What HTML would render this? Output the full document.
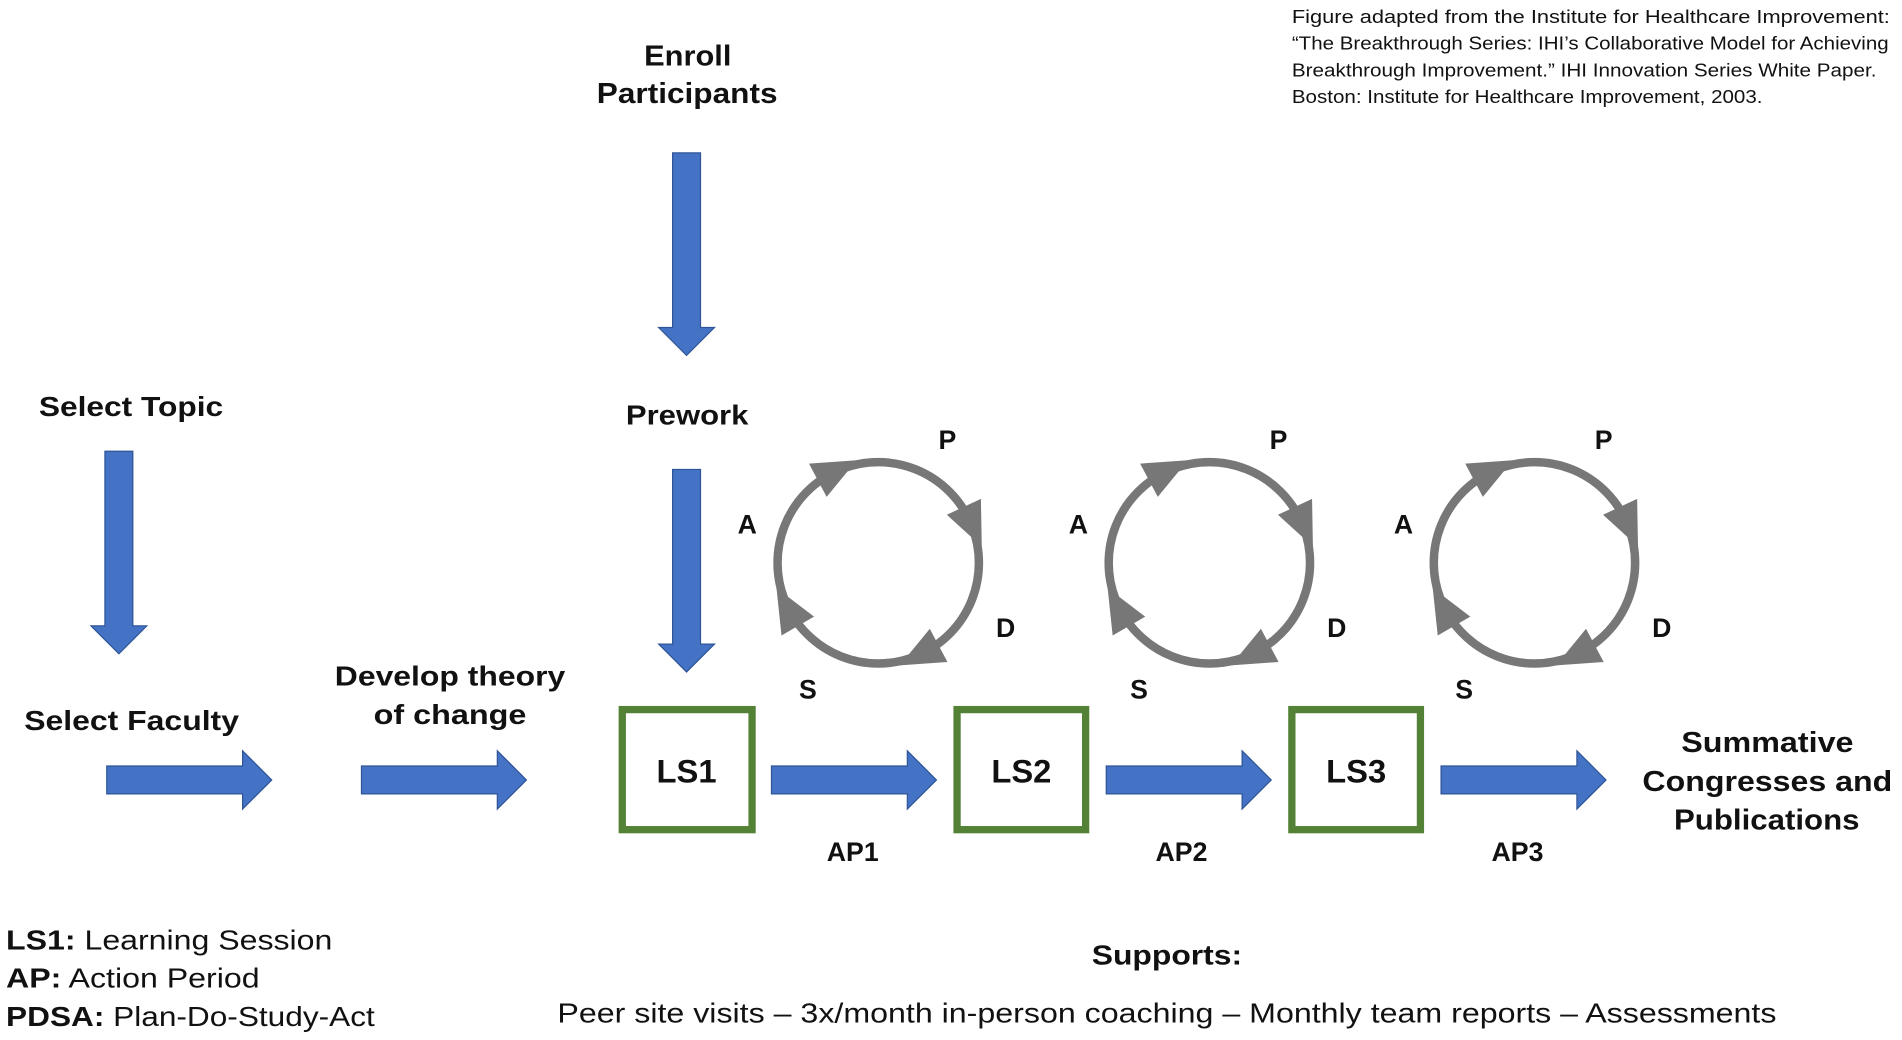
<!DOCTYPE html>
<html><head><meta charset="utf-8"><style>
html,body{margin:0;padding:0;background:#fff;width:1902px;height:1040px;overflow:hidden}
svg{display:block}
text{font-family:"Liberation Sans",Arial,sans-serif;fill:#111}
.b{font-weight:bold}
</style></head><body>
<svg width="1902" height="1040" viewBox="0 0 1568 857.4" preserveAspectRatio="none" xmlns="http://www.w3.org/2000/svg">
<defs>
<g id="cyc">
<circle cx="0" cy="0" r="83" fill="none" stroke="#777" stroke-width="7"/>
<g fill="#777">
<path d="M68,-12 L99,-12 L83,24 Z" transform="rotate(-118)"/>
<path d="M68,-12 L99,-12 L83,24 Z" transform="rotate(-25)"/>
<path d="M68,-12 L99,-12 L83,24 Z" transform="rotate(62)"/>
<path d="M68,-12 L99,-12 L83,24 Z" transform="rotate(150)"/>
</g>
<text x="57" y="-94" class="b" font-size="22" text-anchor="middle">P</text>
<text x="-108" y="-24" class="b" font-size="22" text-anchor="middle">A</text>
<text x="105" y="61" class="b" font-size="22" text-anchor="middle">D</text>
<text x="-58" y="112" class="b" font-size="22" text-anchor="middle">S</text>
</g>
<path id="ra" d="M0,-11.5 L112,-11.5 L112,-24 L136,0 L112,24 L112,11.5 L0,11.5 Z" fill="#4472c4" stroke="#2f5597" stroke-width="1"/>
<path id="da" d="M-11.5,0 L11.5,0 L11.5,144 L23,144 L0,167 L-23,144 L-11.5,144 Z" fill="#4472c4" stroke="#2f5597" stroke-width="1"/>
</defs>

<text x="1065" y="19" font-size="15.5" textLength="493" lengthAdjust="spacingAndGlyphs">Figure adapted from the Institute for Healthcare Improvement:</text>
<text x="1065" y="41" font-size="15.5" textLength="492" lengthAdjust="spacingAndGlyphs">“The Breakthrough Series: IHI’s Collaborative Model for Achieving</text>
<text x="1065" y="63" font-size="15.5" textLength="482" lengthAdjust="spacingAndGlyphs">Breakthrough Improvement.” IHI Innovation Series White Paper.</text>
<text x="1065" y="85" font-size="15.5" textLength="388" lengthAdjust="spacingAndGlyphs">Boston: Institute for Healthcare Improvement, 2003.</text>

<text x="531" y="54" class="b" font-size="24" textLength="72" lengthAdjust="spacingAndGlyphs">Enroll</text>
<text x="492" y="85" class="b" font-size="24" textLength="149" lengthAdjust="spacingAndGlyphs">Participants</text>
<use href="#da" x="566" y="126"/>
<text x="516" y="350" class="b" font-size="23" textLength="101" lengthAdjust="spacingAndGlyphs">Prework</text>
<use href="#da" x="566" y="387"/>

<text x="32" y="343" class="b" font-size="23" textLength="152" lengthAdjust="spacingAndGlyphs">Select Topic</text>
<use href="#da" x="98" y="372"/>
<text x="20" y="602" class="b" font-size="23" textLength="177" lengthAdjust="spacingAndGlyphs">Select Faculty</text>
<use href="#ra" x="88" y="643"/>
<text x="276" y="565" class="b" font-size="23" textLength="190" lengthAdjust="spacingAndGlyphs">Develop theory</text>
<text x="308" y="597" class="b" font-size="23" textLength="126" lengthAdjust="spacingAndGlyphs">of change</text>
<use href="#ra" x="298" y="643"/>

<g fill="none" stroke="#538135" stroke-width="6">
<rect x="513" y="585" width="107" height="99"/>
<rect x="789" y="585" width="106" height="99"/>
<rect x="1065" y="585" width="106" height="99"/>
</g>
<text x="566" y="645" class="b" font-size="27" text-anchor="middle">LS1</text>
<text x="842" y="645" class="b" font-size="27" text-anchor="middle">LS2</text>
<text x="1118" y="645" class="b" font-size="27" text-anchor="middle">LS3</text>
<use href="#ra" x="636" y="643"/>
<use href="#ra" x="912" y="643"/>
<use href="#ra" x="1188" y="643"/>
<text x="703" y="710" class="b" font-size="22" text-anchor="middle">AP1</text>
<text x="974" y="710" class="b" font-size="22" text-anchor="middle">AP2</text>
<text x="1251" y="710" class="b" font-size="22" text-anchor="middle">AP3</text>

<use href="#cyc" x="724" y="464"/>
<use href="#cyc" x="997" y="464"/>
<use href="#cyc" x="1265" y="464"/>

<text x="1386" y="620" class="b" font-size="24" textLength="142" lengthAdjust="spacingAndGlyphs">Summative</text>
<text x="1354" y="652" class="b" font-size="24" textLength="206" lengthAdjust="spacingAndGlyphs">Congresses and</text>
<text x="1380" y="684" class="b" font-size="24" textLength="153" lengthAdjust="spacingAndGlyphs">Publications</text>

<text x="5" y="783" font-size="23" textLength="269" lengthAdjust="spacingAndGlyphs"><tspan class="b">LS1:</tspan> Learning Session</text>
<text x="5" y="814" font-size="23" textLength="209" lengthAdjust="spacingAndGlyphs"><tspan class="b">AP:</tspan> Action Period</text>
<text x="5" y="846" font-size="23" textLength="304" lengthAdjust="spacingAndGlyphs"><tspan class="b">PDSA:</tspan> Plan-Do-Study-Act</text>
<text x="900" y="795" class="b" font-size="23" textLength="124" lengthAdjust="spacingAndGlyphs">Supports:</text>
<text x="962" y="843" font-size="23" text-anchor="middle" textLength="1005" lengthAdjust="spacingAndGlyphs">Peer site visits – 3x/month  in-person  coaching – Monthly  team reports – Assessments</text>
</svg>
</body></html>
